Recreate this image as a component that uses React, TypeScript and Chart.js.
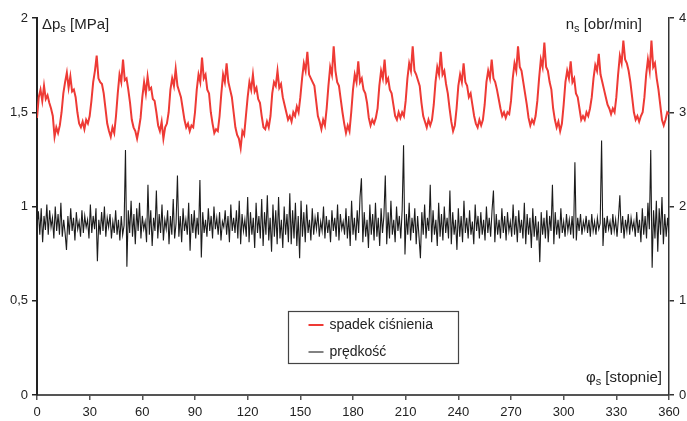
import React, { useEffect, useRef } from 'react';
import { Chart, registerables } from 'chart.js';
Chart.register(...registerables);

const xTickValues = [0, 30, 60, 90, 120, 150, 180, 210, 240, 270, 300, 330, 360];
const leftTickValues = [0, 0.5, 1, 1.5, 2];
const rightTickValues = [0, 1, 2, 3, 4];

const pressureLabel = 'spadek ciśnienia';
const speedLabel = 'prędkość';

// spadek ciśnienia [MPa], one value per degree 0..360
const pressure = [
  1.47, 1.58, 1.62, 1.56, 1.64, 1.57, 1.59, 1.55, 1.52, 1.48,
  1.37, 1.42, 1.39, 1.43, 1.50, 1.60, 1.66, 1.71, 1.63, 1.69,
  1.61, 1.62, 1.58, 1.50, 1.44, 1.42, 1.45, 1.41, 1.46, 1.44,
  1.48, 1.56, 1.66, 1.72, 1.80, 1.68, 1.66, 1.65, 1.60, 1.52,
  1.44, 1.40, 1.37, 1.42, 1.39, 1.48, 1.60, 1.70, 1.66, 1.78,
  1.67, 1.68, 1.62, 1.55, 1.46, 1.42, 1.40, 1.36, 1.41, 1.47,
  1.58, 1.66, 1.60, 1.69, 1.62, 1.63, 1.57, 1.56, 1.50, 1.43,
  1.40, 1.45, 1.36, 1.42, 1.44, 1.50, 1.62, 1.68, 1.64, 1.73,
  1.64, 1.61, 1.58, 1.52, 1.46, 1.42, 1.44, 1.40, 1.43, 1.42,
  1.50, 1.62, 1.70, 1.66, 1.79, 1.68, 1.70, 1.62, 1.60, 1.50,
  1.44, 1.39, 1.41, 1.40, 1.48, 1.60, 1.70, 1.66, 1.76, 1.66,
  1.62, 1.58, 1.50, 1.42, 1.38, 1.36, 1.31, 1.40, 1.38, 1.48,
  1.58, 1.66, 1.62, 1.70, 1.61, 1.63, 1.57, 1.55, 1.48, 1.42,
  1.41, 1.45, 1.42, 1.48, 1.60, 1.66, 1.64, 1.72, 1.63, 1.65,
  1.58, 1.54, 1.50, 1.46, 1.48, 1.45, 1.50, 1.48, 1.53, 1.50,
  1.58, 1.68, 1.76, 1.72, 1.82, 1.70, 1.68, 1.66, 1.64, 1.56,
  1.48, 1.45, 1.41, 1.46, 1.43, 1.52, 1.64, 1.74, 1.70, 1.85,
  1.72, 1.66, 1.64, 1.57, 1.50, 1.44, 1.39, 1.43, 1.40, 1.50,
  1.62, 1.70, 1.66, 1.77, 1.66, 1.68, 1.62, 1.60, 1.55, 1.47,
  1.43, 1.46, 1.44, 1.47, 1.52, 1.64, 1.72, 1.68, 1.78, 1.66,
  1.68, 1.62, 1.60, 1.54, 1.48, 1.46, 1.50, 1.47, 1.50, 1.48,
  1.56, 1.68, 1.76, 1.72, 1.85, 1.72, 1.70, 1.67, 1.64, 1.55,
  1.48, 1.45, 1.42, 1.46, 1.43, 1.46, 1.54, 1.66, 1.74, 1.70,
  1.82, 1.70, 1.72, 1.65, 1.60, 1.52, 1.45, 1.40, 1.43, 1.52,
  1.64, 1.70, 1.66, 1.76, 1.66, 1.64, 1.58, 1.60, 1.54, 1.48,
  1.44, 1.42, 1.46, 1.43, 1.46, 1.54, 1.66, 1.72, 1.68, 1.78,
  1.68, 1.66, 1.62, 1.57, 1.52, 1.48, 1.50, 1.47, 1.50, 1.49,
  1.56, 1.68, 1.76, 1.72, 1.85, 1.74, 1.72, 1.66, 1.60, 1.54,
  1.47, 1.43, 1.46, 1.44, 1.48, 1.56, 1.68, 1.78, 1.74, 1.87,
  1.74, 1.72, 1.66, 1.62, 1.52, 1.46, 1.42, 1.45, 1.40, 1.44,
  1.54, 1.66, 1.72, 1.68, 1.77, 1.66, 1.68, 1.60, 1.58, 1.52,
  1.46, 1.48, 1.46, 1.50, 1.48, 1.52, 1.58, 1.68, 1.75, 1.72,
  1.81, 1.70, 1.66, 1.62, 1.58, 1.54, 1.52, 1.49, 1.52, 1.50,
  1.58, 1.70, 1.80, 1.76, 1.88, 1.78, 1.76, 1.72, 1.66, 1.58,
  1.50, 1.46, 1.48, 1.45, 1.48, 1.50, 1.58, 1.70, 1.78, 1.72,
  1.88, 1.74, 1.76, 1.68, 1.62, 1.54, 1.46, 1.43, 1.46, 1.50,
  1.49,
];

// prędkość [obr/min], evenly spaced samples over 0..360 degrees
const speed = [
  1.80, 1.95, 1.70, 1.98, 1.62, 1.90, 1.75, 2.02, 1.70, 1.96, 1.78, 1.88, 1.66, 2.00, 1.74, 1.92, 1.70, 2.04, 1.68, 1.86,
  1.72, 1.54, 1.90, 1.70, 1.98, 1.74, 1.88, 1.64, 1.94, 1.76, 1.84, 1.68, 1.96, 1.72, 1.90, 1.78, 1.86, 1.66, 2.02, 1.72,
  1.90, 1.76, 1.98, 1.42, 1.86, 1.70, 1.94, 1.74, 2.00, 1.68, 1.88, 1.78, 1.92, 1.66, 1.84, 1.72, 1.96, 1.70, 1.86, 1.64,
  1.90, 1.70, 1.80, 2.60, 1.36, 1.96, 1.72, 2.06, 1.68, 1.92, 1.60, 1.98, 1.74, 2.04, 1.66, 1.90, 1.76, 1.84, 1.62, 2.23,
  1.70, 1.96, 1.58, 1.88, 1.74, 2.17, 1.66, 1.92, 1.72, 2.02, 1.64, 1.86, 1.76, 1.96, 1.60, 1.90, 1.70, 2.08, 1.66, 1.82,
  2.33, 1.68, 1.90, 1.62, 1.98, 1.74, 1.86, 1.70, 2.04, 1.53, 1.92, 1.72, 1.96, 1.66, 1.88, 1.70, 2.28, 1.46, 1.94, 1.72,
  1.86, 1.68, 1.98, 1.74, 1.90, 1.66, 2.00, 1.76, 1.88, 1.70, 1.94, 1.64, 1.84, 1.78, 1.96, 1.70, 1.90, 1.62, 2.02, 1.74,
  1.88, 1.72, 1.96, 1.66, 2.06, 1.60, 1.92, 1.74, 1.86, 1.68, 2.10, 1.62, 1.94, 1.70, 1.88, 1.56, 2.04, 1.72, 1.90, 1.66,
  2.08, 1.58, 1.94, 1.70, 2.12, 1.64, 1.88, 1.52, 2.02, 1.68, 1.96, 1.60, 2.10, 1.66, 1.86, 1.56, 2.00, 1.70, 1.92, 1.62,
  2.14, 1.60, 1.96, 1.66, 2.04, 1.58, 1.90, 1.45, 2.06, 1.68, 1.94, 1.62, 2.02, 1.72, 1.86, 1.64, 1.98, 1.70, 1.88, 1.76,
  1.94, 1.68, 1.84, 1.74, 2.00, 1.66, 1.90, 1.72, 1.86, 1.62, 1.96, 1.74, 1.88, 1.68, 2.02, 1.64, 1.92, 1.76, 1.84, 1.70,
  1.98, 1.66, 1.90, 1.58, 2.06, 1.70, 1.88, 1.64, 1.96, 1.72, 2.10, 2.30, 1.62, 1.94, 1.68, 1.86, 1.56, 2.02, 1.70, 1.92,
  1.64, 2.04, 1.68, 1.88, 1.58, 1.98, 1.72, 1.90, 2.33, 1.60, 1.94, 1.66, 2.06, 1.70, 1.86, 1.62, 2.00, 1.74, 1.90, 1.66,
  1.96, 2.65, 1.49, 1.92, 1.70, 2.04, 1.64, 1.88, 1.72, 1.98, 1.60, 1.90, 1.68, 1.45, 1.94, 1.70, 2.02, 1.66, 1.88, 1.74,
  2.23, 1.62, 1.96, 1.70, 1.86, 1.58, 2.04, 1.68, 1.92, 1.64, 2.00, 1.72, 1.88, 1.66, 2.17, 1.60, 1.94, 1.70, 1.86, 1.54,
  1.98, 1.68, 1.90, 1.62, 2.06, 1.72, 1.88, 1.66, 1.96, 1.70, 1.84, 1.60, 2.02, 1.74, 1.90, 1.66, 1.94, 1.70, 1.86, 1.64,
  2.00, 1.72, 1.88, 1.68, 1.96, 2.17, 1.62, 1.92, 1.70, 1.86, 1.66, 1.98, 1.72, 1.90, 1.64, 1.94, 1.74, 1.84, 1.68, 2.02,
  1.70, 1.90, 1.62, 1.96, 1.72, 1.86, 1.66, 2.04, 1.60, 1.92, 1.70, 1.88, 1.56, 1.98, 1.68, 1.90, 1.64, 1.84, 1.41, 1.94,
  1.70, 1.88, 1.66, 1.96, 1.62, 1.90, 1.74, 2.23, 1.60, 1.94, 1.70, 1.86, 1.66, 1.98, 1.72, 1.84, 1.68, 1.92, 1.74, 1.86,
  1.70, 1.90, 1.66, 2.47, 1.64, 1.88, 1.74, 1.92, 1.70, 1.84, 1.76, 1.90, 1.72, 1.86, 1.68, 1.92, 1.74, 1.84, 1.70, 1.88,
  1.76, 1.82, 2.70, 1.58, 1.88, 1.72, 1.90, 1.76, 1.84, 1.70, 1.92, 1.74, 1.86, 1.68, 1.88, 2.12, 1.72, 1.90, 1.66, 1.86,
  1.74, 1.92, 1.70, 1.88, 1.76, 1.84, 1.68, 1.94, 1.72, 1.86, 1.62, 1.98, 1.70, 1.90, 1.66, 2.04, 1.76, 2.60, 1.35, 1.96,
  1.66, 2.06, 1.52, 1.98, 1.70, 2.10, 1.60, 1.92, 1.68, 1.88, 1.72,
];

const FONT = '"Liberation Sans", Arial, sans-serif';

function drawSubText(ctx: CanvasRenderingContext2D, x: number, y: number, main: string, sub: string, rest: string, size: number, align: 'left' | 'right') {
  ctx.save();
  ctx.fillStyle = '#222';
  ctx.textBaseline = 'alphabetic';
  ctx.textAlign = 'left';
  const mainFont = `${size}px ${FONT}`;
  const subFont = `${Math.round(size * 0.7)}px ${FONT}`;
  ctx.font = mainFont;
  const w1 = ctx.measureText(main).width;
  const w3 = ctx.measureText(rest).width;
  ctx.font = subFont;
  const w2 = ctx.measureText(sub).width;
  const total = w1 + w2 + w3;
  let sx = align === 'left' ? x : x - total;
  ctx.font = mainFont;
  ctx.fillText(main, sx, y);
  sx += w1;
  ctx.font = subFont;
  ctx.fillText(sub, sx, y + 3);
  sx += w2;
  ctx.font = mainFont;
  ctx.fillText(rest, sx, y);
  ctx.restore();
}

const overlayPlugin = {
  id: 'overlay',
  afterDraw(chart: any) {
    const ctx: CanvasRenderingContext2D = chart.ctx;
    const area = chart.chartArea;
    drawSubText(ctx, area.left + 5, area.top + 11, 'Δp', 's', ' [MPa]', 15, 'left');
    drawSubText(ctx, area.right - 27, area.top + 11, 'n', 's', ' [obr/min]', 15, 'right');
    drawSubText(ctx, area.right - 7, area.bottom - 13, 'φ', 's', ' [stopnie]', 15, 'right');

    // legend box
    const bx = 288.5, by = 311.5, bw = 170, bh = 52;
    ctx.save();
    ctx.strokeStyle = '#444';
    ctx.lineWidth = 1.2;
    ctx.strokeRect(bx, by, bw, bh);
    const items = chart.data.datasets;
    items.forEach((ds: any, i: number) => {
      const yy = by + 13.5 + i * 27;
      ctx.strokeStyle = ds.borderColor;
      ctx.lineWidth = ds.borderWidth;
      ctx.beginPath();
      ctx.moveTo(bx + 20, yy);
      ctx.lineTo(bx + 35, yy);
      ctx.stroke();
      ctx.fillStyle = '#222';
      ctx.font = `14px ${FONT}`;
      ctx.textBaseline = 'middle';
      ctx.textAlign = 'left';
      ctx.fillText(ds.label, bx + 41, yy);
    });
    ctx.restore();
  },
};

const commaFmt = (v: any) => String(v).replace('.', ',');

export default function App() {
  const ref = useRef<HTMLCanvasElement>(null);
  useEffect(() => {
    const canvas = ref.current;
    if (!canvas) return;
    const pStep = 360 / (pressure.length - 1);
    const sStep = 360 / (speed.length - 1);
    const tickFont = { size: 13, family: FONT };
    const chart = new Chart(canvas, {
      type: 'line',
      data: {
        datasets: [
          {
            label: pressureLabel,
            data: pressure.map((v, i) => ({ x: i * pStep, y: v })),
            borderColor: '#ee3a35',
            borderWidth: 2,
            pointRadius: 0,
            tension: 0,
            yAxisID: 'y',
          },
          {
            label: speedLabel,
            data: speed.map((v, i) => ({ x: i * sStep, y: v })),
            borderColor: '#1c1c1c',
            borderWidth: 1.1,
            pointRadius: 0,
            tension: 0,
            yAxisID: 'y2',
          },
        ],
      },
      options: {
        animation: false,
        responsive: false,
        events: [],
        layout: { padding: { top: 18, left: 0, right: 0, bottom: 0 } },
        plugins: { legend: { display: false }, tooltip: { enabled: false } },
        scales: {
          x: {
            type: 'linear',
            min: 0,
            max: 360,
            afterBuildTicks: (s: any) => { s.ticks = xTickValues.map((v) => ({ value: v })); },
            afterFit: (s: any) => { s.height = 26; },
            grid: { drawOnChartArea: false, drawTicks: true, tickLength: 5, color: '#555', lineWidth: 1.5 },
            border: { color: '#555', width: 2 },
            ticks: { color: '#222', font: tickFont, padding: 5, maxRotation: 0, autoSkip: false },
          },
          y: {
            type: 'linear',
            position: 'left',
            min: 0,
            max: 2,
            afterBuildTicks: (s: any) => { s.ticks = leftTickValues.map((v) => ({ value: v })); },
            afterFit: (s: any) => { s.width = 37; },
            grid: { drawOnChartArea: false, drawTicks: true, tickLength: 5, color: '#222', lineWidth: 1.5 },
            border: { color: '#222', width: 2 },
            ticks: { color: '#222', font: tickFont, padding: 4, callback: commaFmt },
          },
          y2: {
            type: 'linear',
            position: 'right',
            min: 0,
            max: 4,
            afterBuildTicks: (s: any) => { s.ticks = rightTickValues.map((v) => ({ value: v })); },
            afterFit: (s: any) => { s.width = 18; },
            grid: { drawOnChartArea: false, drawTicks: true, tickLength: 5, color: '#333', lineWidth: 1.5 },
            border: { color: '#333', width: 1.5 },
            ticks: { color: '#222', font: tickFont, padding: 5, callback: commaFmt },
          },
        },
      },
      plugins: [overlayPlugin],
    } as any);
    return () => chart.destroy();
  }, []);
  return (
    <div style={{ position: 'fixed', left: 0, top: 0, width: 687, height: 421, background: '#fff' }}>
      <canvas ref={ref} width={687} height={421} style={{ width: 687, height: 421, display: 'block' }} />
    </div>
  );
}
